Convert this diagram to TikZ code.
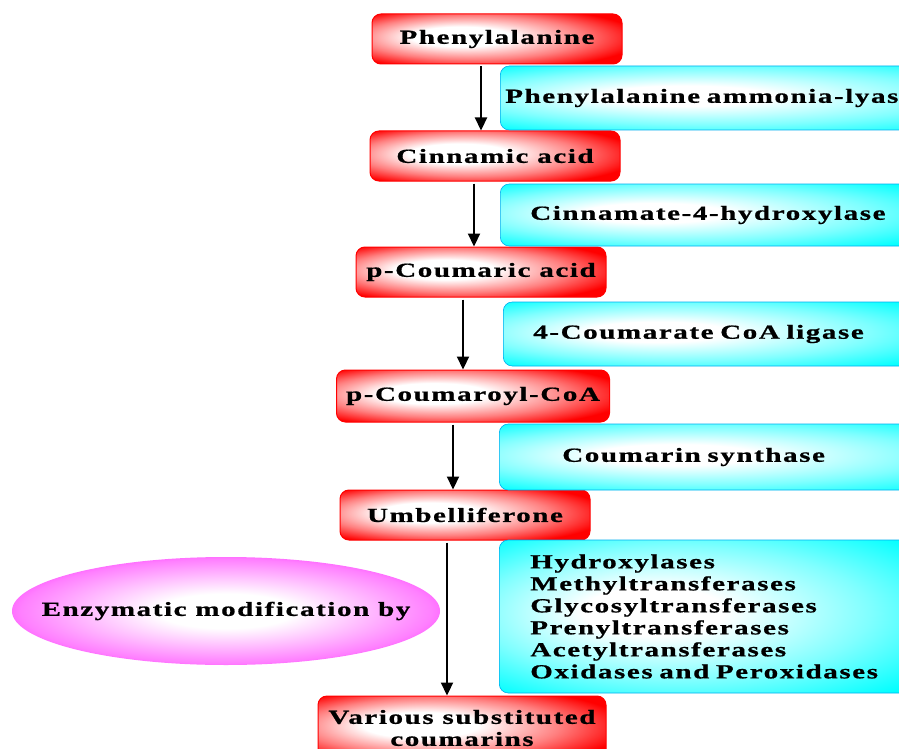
\documentclass[tikz,border=0pt]{standalone}
\usepackage{fontspec}
\setmainfont{Liberation Serif}[FakeStretch=1.45, LetterSpace=8, FakeBold=0.8]
\usetikzlibrary{shapes.geometric,arrows.meta}
\pgfdeclareradialshading{redglow}{\pgfpoint{-9bp}{3bp}}{color(0bp)=(white); color(10bp)=(white); color(22bp)=(red!50!white); color(32bp)=(red); color(50bp)=(red)}
\pgfdeclareradialshading{cyanglow}{\pgfpoint{-9bp}{2bp}}{color(0bp)=(white); color(8bp)=(white); color(22bp)=(cyan!50!white); color(34bp)=(cyan); color(50bp)=(cyan)}
\pgfdeclareradialshading{magglow}{\pgfpoint{0bp}{0bp}}{color(0bp)=(white); color(8bp)=(white); color(24bp)=(magenta!50!white); color(33bp)=(magenta); color(50bp)=(magenta)}
\tikzset{
  redbox/.style={rectangle, rounded corners=9pt, draw=red, line width=1pt,
    shading=redglow, minimum width=250pt, minimum height=50pt,
    align=center, inner sep=2pt},
  cybox/.style={rectangle, rounded corners=9pt, draw=cyan, line width=0.6pt,
    shading=cyanglow, anchor=west, text width=380pt,
    align=left, minimum width=440pt},
  ellbox/.style={ellipse, shading=magglow,
    minimum width=428pt, minimum height=108pt, inner sep=0pt},
  arr/.style={-{Triangle[length=13pt,width=12pt]}, line width=2.2pt, black,
    shorten <=2pt}
}
\begin{document}
\begin{tikzpicture}[x=1pt,y=-1pt,font=\bfseries\fontsize{20}{22}\selectfont]
\useasboundingbox (0,0) rectangle (899,749);
\clip (0,0) rectangle (899,749);
\fill[white] (0,0) rectangle (899,749);
% red boxes
\node[redbox] (p1) at (497,39) {Phenylalanine};
\node[redbox] (p2) at (495,156) {Cinnamic acid};
\node[redbox] (p3) at (481,272) {p-Coumaric acid};
\node[redbox, minimum width=273pt, minimum height=52pt] (p4) at (473,396) {p-Coumaroyl-CoA};
\node[redbox] (p5) at (465,515) {Umbelliferone};
\node[redbox, minimum width=288pt, minimum height=64pt] (p6) at (462,728) {Various substituted\\coumarins};
% cyan boxes
\node[cybox, minimum height=64pt, inner xsep=5pt, text width=520pt] (c1) at (500,98) {Phenylalanine ammonia-lyas};
\node[cybox, minimum height=62pt, inner xsep=22pt] (c2) at (500,215) {Cinnamate-4-hydroxylase};
\node[cybox, minimum height=64pt, inner xsep=17pt] (c3) at (503,334) {4-Coumarate CoA ligase};
\node[cybox, minimum height=66pt, inner xsep=63pt] (c4) at (499,457) {Coumarin synthase};
\node[cybox, minimum height=153pt, inner xsep=31pt] (c5) at (499,616.5) {Hydroxylases\\Methyltransferases\\Glycosyltransferases\\Prenyltransferases\\Acetyltransferases\\Oxidases and Peroxidases};
% ellipse
\node[ellbox] (e1) at (226,611) {\makebox[0pt]{Enzymatic modification by}};
% arrows
\draw[arr] ([xshift=-16pt]p1.south) -- ([xshift=-14pt]p2.north);
\draw[arr] ([xshift=-21pt]p2.south) -- ([xshift=-7pt]p3.north);
\draw[arr] ([xshift=-18pt]p3.south) -- ([xshift=-10pt]p4.north);
\draw[arr] ([xshift=-20pt]p4.south) -- ([xshift=-12pt]p5.north);
\draw[arr] ([xshift=-18pt]p5.south) -- ([xshift=-15pt]p6.north);
\end{tikzpicture}
\end{document}
